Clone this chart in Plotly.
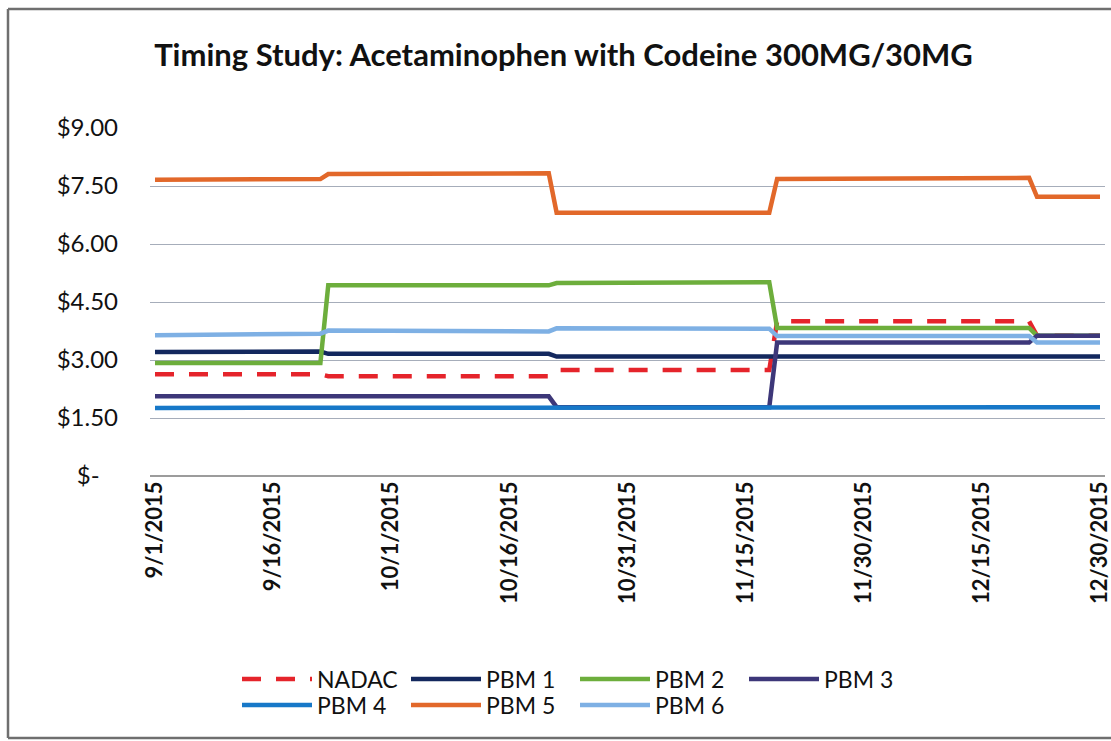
import plotly.graph_objects as go

# Observation dates (price changes happen overnight between paired dates)
dates = ["2015-09-01", "2015-09-22", "2015-09-23", "2015-10-21", "2015-10-22",
         "2015-11-18", "2015-11-19", "2015-12-21", "2015-12-22", "2015-12-30"]

nadac = [2.63, 2.63, 2.58, 2.58, 2.74, 2.74, 4.00, 4.00, 3.63, 3.63]
pbm1 = [3.21, 3.22, 3.16, 3.16, 3.09, 3.09, 3.09, 3.09, 3.09, 3.09]
pbm2 = [2.92, 2.92, 4.93, 4.93, 4.99, 5.01, 3.83, 3.83, 3.63, 3.63]
pbm3 = [2.06, 2.06, 2.06, 2.06, 1.78, 1.78, 3.45, 3.45, 3.63, 3.63]
pbm4 = [1.76, 1.76, 1.76, 1.76, 1.78, 1.78, 1.78, 1.78, 1.78, 1.78]
pbm5 = [7.66, 7.68, 7.81, 7.83, 6.81, 6.81, 7.68, 7.71, 7.22, 7.22]
pbm6 = [3.64, 3.68, 3.76, 3.74, 3.82, 3.81, 3.62, 3.62, 3.45, 3.45]

x_tick_dates = ["2015-09-01", "2015-09-16", "2015-10-01", "2015-10-16", "2015-10-31",
                "2015-11-15", "2015-11-30", "2015-12-15", "2015-12-30"]
x_tick_text = ["9/1/2015", "9/16/2015", "10/1/2015", "10/16/2015", "10/31/2015",
               "11/15/2015", "11/30/2015", "12/15/2015", "12/30/2015"]
y_tick_vals = [0, 1.5, 3.0, 4.5, 6.0, 7.5, 9.0]
y_tick_text = ["$-\u00a0\u00a0\u00a0", "$1.50", "$3.00", "$4.50", "$6.00", "$7.50", "$9.00"]

series = [
    ("NADAC", nadac, "#E5242B", "19px,15px", "legend"),
    ("PBM 1", pbm1, "#13285E", "solid", "legend"),
    ("PBM 2", pbm2, "#6DAE3C", "solid", "legend"),
    ("PBM 3", pbm3, "#3D3779", "solid", "legend"),
    ("PBM 4", pbm4, "#1778C8", "solid", "legend2"),
    ("PBM 5", pbm5, "#E2682A", "solid", "legend2"),
    ("PBM 6", pbm6, "#7EB0E4", "solid", "legend2"),
]

FONT = "Lato"
fig = go.Figure()
for name, vals, color, dash, leg in series:
    fig.add_trace(go.Scatter(
        x=dates, y=vals, name=name, mode="lines",
        line=dict(color=color, width=4.5, dash=dash),
        legend=leg,
    ))

legend_style = dict(
    orientation="h", xref="paper", yref="paper", xanchor="left", yanchor="middle",
    font=dict(family=FONT, size=23, color="#111111"),
    itemwidth=70, entrywidth=84, bgcolor="rgba(0,0,0,0)",
    traceorder="normal",
)

fig.update_layout(
    width=1111, height=741,
    margin=dict(l=150, r=6, t=128, b=265, autoexpand=False),
    paper_bgcolor="white", plot_bgcolor="white",
    title=dict(
        text="<b>Timing Study: Acetaminophen with Codeine 300MG/30MG</b>",
        x=563.5 / 1111, xref="container", xanchor="center",
        y=1 - 55 / 741, yref="container", yanchor="middle",
        font=dict(family=FONT, size=31, color="#111111"),
    ),
    xaxis=dict(
        type="date",
        range=["2015-08-31 08:45", "2015-12-30 15:15"],
        tickvals=x_tick_dates, ticktext=x_tick_text, tickangle=-90,
        tickfont=dict(family=FONT, size=22, color="#111111", weight="bold"),
        ticklabeloverflow="allow", automargin=False,
        showgrid=False, zeroline=False, showline=False, ticks="",
    ),
    yaxis=dict(
        range=[0, 9], tickvals=y_tick_vals, ticktext=y_tick_text,
        tickfont=dict(family=FONT, size=24, color="#111111"),
        showgrid=True, gridcolor="#A6ADBA", gridwidth=1.4,
        zeroline=True, zerolinecolor="#9C9C9C", zerolinewidth=2.2,
        showline=False, ticks="", ticklabelstandoff=31, automargin=False,
    ),
    legend=dict(x=(237 - 150) / 955, y=(476 - 679) / 348, **legend_style),
    legend2=dict(x=(237 - 150) / 955, y=(476 - 705) / 348, **legend_style),
    showlegend=True,
)

# Chart-area frame
frame_color = "#6F6F6F"
x_left = (8 - 150) / 955
x_right = 1.02
y_top = (476 - 9) / 348
y_bot = (476 - 738) / 348
for x0, y0, x1, y1 in [(x_left, y_top, x_right, y_top),
                       (x_left, y_bot, x_right, y_bot),
                       (x_left, y_bot, x_left, y_top)]:
    fig.add_shape(type="line", xref="paper", yref="paper",
                  x0=x0, y0=y0, x1=x1, y1=y1,
                  line=dict(color=frame_color, width=2.5))

fig.write_html("out.html")
